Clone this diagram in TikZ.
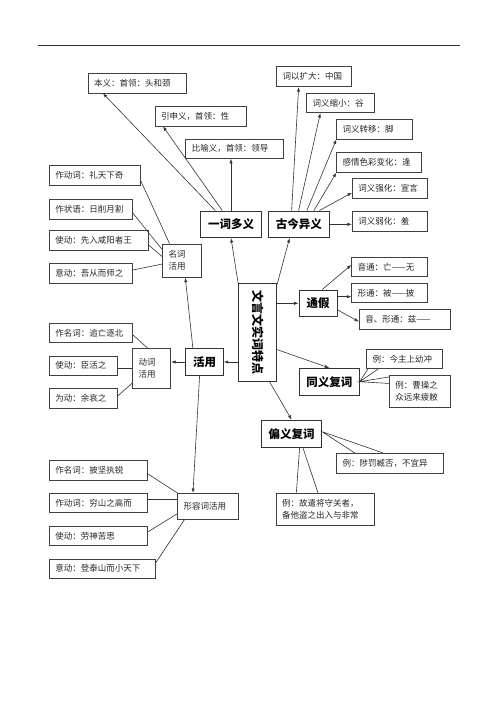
\documentclass[tikz,border=0pt]{standalone}
\usepackage{fontspec}
\setmainfont{Noto Sans CJK SC}
\usetikzlibrary{calc,arrows.meta}
\tikzset{
  sb/.style={draw=black!75, line width=0.7pt, inner xsep=6pt, inner ysep=0pt, align=left,
    font=\fontsize{8.5}{12}\selectfont, text=black!85},
  mb/.style={draw=black!80, line width=0.8pt, inner sep=0pt, align=center,
    font=\fontsize{11.5}{13}\selectfont\bfseries},
  arr/.style={draw=black!80, line width=0.6pt, -{Latex[length=4.5pt,width=3.2pt]}},
  ln/.style={draw=black!80, line width=0.6pt},
}
\begin{document}
\begin{tikzpicture}[x=1pt,y=-1pt]
\useasboundingbox (0,0) rectangle (500,708);
\fill[white] (0,0) rectangle (500,708);
\coordinate (hl) at (38,45);
\coordinate (hr) at (460,45);
\draw[ln, line width=0.8pt] (hl) -- (hr);

% top-left group
\node[sb, text width=86pt, minimum height=20pt] (A1) at (137,83) {本义：首领：头和颈};
\node[sb, text width=79pt, minimum height=20pt] (A2) at (200.5,116) {引申义，首领：性};
\node[sb, text width=86pt, minimum height=19.5pt] (A3) at (234.8,148.7) {比喻义，首领：领导};
\node[mb, minimum width=60.6pt, minimum height=26.7pt] (YC) at (231,224.3) {一词多义};
\node[mb, minimum width=61pt, minimum height=26.7pt] (GJ) at (298.8,224.3) {古今异义};

% top-right group
\node[sb, text width=63pt, minimum height=20pt] (B1) at (314.2,76.7) {词以扩大：中国};
\node[sb, text width=55.6pt, minimum height=19.4pt] (B2) at (340.5,103) {词义缩小：谷};
\node[sb, text width=63.6pt, minimum height=19.7pt] (B3) at (374.5,129.2) {词义转移：脚};
\node[sb, text width=72.6pt, minimum height=20pt] (B4) at (379,162.3) {感情色彩变化：逢};
\node[sb, text width=63.4pt, minimum height=19.7pt] (B5) at (390,188.2) {词义强化：宣言};
\node[sb, text width=63.4pt, minimum height=19.7pt] (B6) at (390,221.2) {词义弱化：羞};

% noun group
\node[sb, text width=78.7pt, minimum height=19.3pt] (N1) at (94.7,175.3) {作动词：礼天下奇};
\node[sb, text width=71.4pt, minimum height=20pt] (N2) at (91,209) {作状语：日削月割};
\node[sb, text width=87pt, minimum height=20pt] (N3) at (98.8,240.7) {使动：先入咸阳者王};
\node[sb, text width=71.4pt, minimum height=20pt] (N4) at (91,273.3) {意动：吾从而师之};
\node[sb, text width=26.3pt, minimum height=33.3pt] (MC) at (181.8,260.7) {名词\\活用};

% centre
\node[draw=black!80, line width=0.8pt, minimum width=38pt, minimum height=98.4pt, inner sep=0pt] (C) at (257.7,332.5) {};
\node[rotate=-90, inner sep=0pt, font=\fontsize{12}{14}\selectfont\bfseries] (Ct) at (C.center) {文言文实词特点};

% verb group
\node[sb, text width=71.4pt, minimum height=19.4pt] (V1) at (91,333) {作名词：追亡逐北};
\node[sb, text width=56pt, minimum height=19.3pt] (V2) at (83.3,365.7) {使动：臣活之};
\node[sb, text width=56pt, minimum height=19.6pt] (V3) at (83.3,398.5) {为动：余哀之};
\node[sb, text width=26pt, minimum height=40pt] (DC) at (151.7,368.7) {动词\\活用};
\node[mb, minimum width=37.6pt, minimum height=26.6pt] (HY) at (204.5,362) {活用};

% right group
\node[mb, minimum width=38.3pt, minimum height=26.7pt] (TJ) at (318.2,303.3) {通假};
\node[sb, text width=64pt, minimum height=19.4pt] (T1) at (389.7,267) {音通：亡——无};
\node[sb, text width=64pt, minimum height=19.4pt] (T2) at (389.7,293) {形通：被——披};
\node[sb, text width=78.7pt, minimum height=20pt] (T3) at (404.7,319.3) {音、形通：兹——};
\node[mb, minimum width=60pt, minimum height=26.7pt] (TY) at (329.3,381.7) {同义复词};
\node[sb, text width=63.6pt, minimum height=19.4pt] (E1) at (404.5,359) {例：今主上幼冲};
\node[sb, text width=48.7pt, minimum height=32pt] (E2) at (419.7,391.3) {例：曹操之\\众远来疲敝};
\node[mb, minimum width=60.2pt, minimum height=27.3pt] (PY) at (291.6,433.7) {偏义复词};
\node[sb, text width=94.3pt, minimum height=20pt] (E3) at (389.7,463.3) {例：陟罚臧否，不宜异};
\node[sb, text width=86.6pt, minimum height=32.5pt] (E4) at (325.3,509.3) {例：故遣将守关者，\\备他盗之出入与非常};

% adjective group
\node[sb, text width=86.4pt, minimum height=19.3pt] (J1) at (98.5,470.3) {作名词：披坚执锐};
\node[sb, text width=86.4pt, minimum height=19.4pt] (J2) at (98.5,503) {作动词：穷山之高而};
\node[sb, text width=86.4pt, minimum height=19.7pt] (J3) at (98.5,535.8) {使动：劳神苦思};
\node[sb, text width=93.7pt, minimum height=19.3pt] (J4) at (102.2,568.7) {意动：登泰山而小天下};
\node[sb, text width=48.6pt, minimum height=25.7pt] (XC) at (208,506.2) {形容词活用};

% connectors: 一词多义
\draw[arr] ($(YC.north west)+(15,0)$) -- ($(A1.south west)+(15.3,0)$);
\draw[arr] ($(YC.north west)+(22,0)$) -- ($(A2.south west)+(8.3,0)$);
\draw[arr] (YC.north) -- (YC.north |- A3.south);
% 古今异义
\draw[arr] ($(GJ.north west)+(23.7,0)$) -- ($(B1.south west)+(22.3,0)$);
\draw[arr] ($(GJ.north west)+(30.7,0)$) -- ($(B2.south west)+(14,0)$);
\draw[arr] ($(GJ.north west)+(39,0)$) -- (B3.south west);
\draw[arr] ($(GJ.north west)+(46,0)$) -- (B4.south west);
\draw[arr] ($(GJ.north west)+(51.5,0)$) -- ($(B5.west)+(0,4.5)$);
\draw[arr] (GJ.east) -- (GJ.east -| B6.west);
% centre
\draw[arr] ($(C.north west)+(0,1.5)$) -- (YC.south);
\draw[arr] ($(C.north east)+(0,1.5)$) -- ($(GJ.south west)+(21.7,0)$);
\draw[arr] (C.east |- TJ.west) -- (TJ.west);
\draw[arr] (C.west |- HY.east) -- (HY.east);
\draw[arr] ($(C.north east)+(0,66.7)$) -- (TY.north);
\draw[arr] ($(C.south east)+(-7.4,0)$) -- (PY.north);
% 活用
\draw[arr] (HY.west) -- (HY.west -| DC.east);
\draw[arr] ($(HY.north west)+(7.6,0)$) -- ($(MC.south west)+(23,0)$);
\draw[arr] ($(HY.south west)+(14.3,0)$) -- ($(XC.north west)+(15.6,0)$);
% 通假
\draw[arr] ($(TJ.north east)+(-15.6,0)$) -- ($(T1.west)+(0,-2)$);
\draw[arr] ($(TJ.east)+(0,-6.6)$) -- ($(TJ.east -| T2.west)+(0,-6.6)$);
\draw[arr] ($(TJ.east)+(0,6.7)$) -- ($(T3.west)+(0,2.4)$);
% callouts
\draw[ln] ($(E1.south west)+(1.6,0)$) -- (TY.east) -- ($(E1.south west)+(11.6,0)$);
\draw[ln] ($(E2.north west)+(0,2)$) -- (TY.east) -- ($(E2.north west)+(0,8.5)$);
\draw[ln] ($(E3.north west)+(18.5,0)$) -- ($(PY.east)+(0,-2)$) -- ($(E3.north west)+(46.8,0)$);
\draw[ln] ($(PY.south west)+(38.5,0)$) -- ($(E4.north west)+(20.7,0)$);
\draw[ln] ($(PY.south west)+(41.8,0)$) -- ($(E4.north west)+(42.3,0)$);
% noun lines
\draw[ln] ($(N1.east)+(0,4.7)$) -- ($(MC.north west)+(7.3,0)$);
\draw[ln] ($(N2.east)+(0,4.3)$) -- ($(MC.north west)+(0,6)$);
\draw[ln] ($(N3.east)+(0,4.3)$) -- ($(MC.west)+(0,-4)$);
\draw[ln] ($(N4.east)+(0,-3.3)$) -- ($(MC.west)+(0,3.3)$);
% verb lines
\draw[ln] ($(V1.east)+(0,2)$) -- ($(DC.north west)+(15.6,0)$);
\draw[ln] ($(V2.east)+(0,3)$) -- ($(V2.east -| DC.west)+(0,3)$);
\draw[ln] ($(V3.east)+(0,-2.5)$) -- ($(DC.south west)+(0,-6)$);
% adjective lines
\draw[ln] ($(J1.east)+(0,3.7)$) -- (XC.north west);
\draw[ln] ($(J2.east)+(0,-3.7)$) -- ($(J2.east -| XC.west)+(0,-3.7)$);
\draw[ln] ($(J3.east)+(0,-4)$) -- ($(XC.south west)+(0,-5.7)$);
\draw[ln] ($(J4.east)+(0,-5.4)$) -- ($(XC.south west)+(7.3,0)$);
\end{tikzpicture}
\end{document}
